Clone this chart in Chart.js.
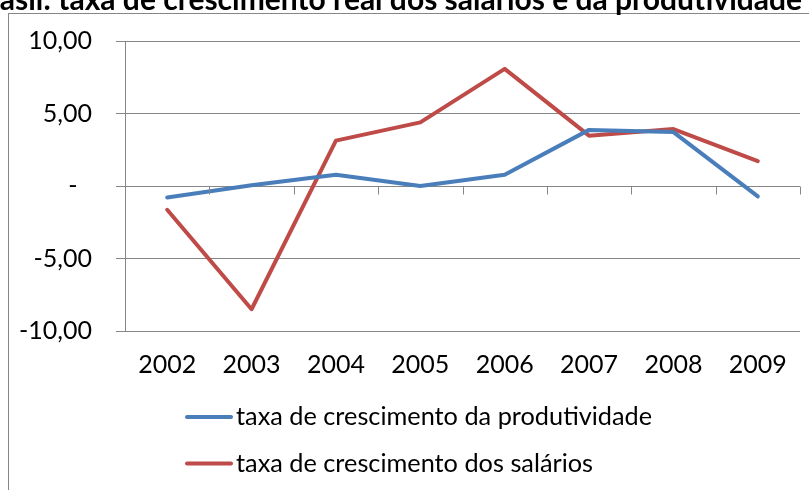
<!DOCTYPE html>
<html>
<head>
<meta charset="utf-8">
<script src="https://cdn.jsdelivr.net/npm/chart.js@4"></script>
<style>
  html, body { margin:0; padding:0; background:#ffffff; }
  #wrap { position:relative; width:809px; height:490px; }
</style>
</head>
<body>
<div id="wrap"><canvas id="growthChart"></canvas></div>
<script>

/* ===================================================== */
/* DADOS */
/* ===================================================== */

const chartTitle = "Brasil: taxa de crescimento real dos salários e da produtividade (%)";

const years = ["2002","2003","2004","2005","2006","2007","2008","2009"];

const produtividade = [-0.79, 0.05, 0.78, 0.0, 0.78, 3.87, 3.72, -0.72];
const salarios = [-1.64, -8.5, 3.13, 4.39, 8.08, 3.47, 3.93, 1.72];

const seriesNames = [
  "taxa de crescimento da produtividade",
  "taxa de crescimento dos salários"
];

const yTicks = [-10, -5, 0, 5, 10];

const FONT = "Lato";
const GRAY = "#868686";

/* ===================================================== */
/* PLUGIN: moldura, titulo, marcas e legenda */
/* ===================================================== */

const excelLook = {
  id: "excelLook",

  beforeDraw(chart){
    const ctx = chart.ctx;
    ctx.save();
    ctx.fillStyle = "#ffffff";
    ctx.fillRect(0, 0, chart.width, chart.height);
    ctx.strokeStyle = GRAY;
    ctx.lineWidth = 1;
    ctx.strokeRect(8.5, 13.5, 1000, 1000);

    // titulo cortado no topo
    ctx.font = "bold 30px " + FONT;
    ctx.fillStyle = "#000000";
    ctx.textBaseline = "alphabetic";
    ctx.textAlign = "left";
    const shift = ctx.measureText("Br").width;
    ctx.fillText(chartTitle, -shift, 10);
    ctx.restore();
  },

  afterDatasetsDraw(chart){
    const ctx = chart.ctx;
    const xs = chart.scales.x;
    const ys = chart.scales.y;
    const y0 = Math.round(ys.getPixelForValue(0)) + 0.5;
    const half = (xs.getPixelForTick(1) - xs.getPixelForTick(0)) / 2;

    ctx.save();
    ctx.strokeStyle = GRAY;
    ctx.lineWidth = 1;
    ctx.beginPath();
    for(let i = 0; i <= years.length; i++){
      const x = Math.round(xs.getPixelForTick(0) - half + i * half * 2) + 0.5;
      ctx.moveTo(x, y0);
      ctx.lineTo(x, y0 + 8);
    }
    ctx.stroke();

    // legenda
    ctx.font = "25.3px " + FONT;
    ctx.textBaseline = "alphabetic";
    ctx.textAlign = "left";
    chart.data.datasets.forEach((ds, i) => {
      const ly = 417 + i * 46.5;
      ctx.strokeStyle = ds.borderColor;
      ctx.lineWidth = 4;
      ctx.lineCap = "round";
      ctx.beginPath();
      ctx.moveTo(187, ly);
      ctx.lineTo(231, ly);
      ctx.stroke();
      ctx.fillStyle = "#000000";
      ctx.fillText(ds.label, 236, ly + 8);
    });
    ctx.restore();
  }
};

/* ===================================================== */
/* GRAFICO */
/* ===================================================== */

function makeDataset(label, data, color){
  return {
    label: label,
    data: data,
    borderColor: color,
    backgroundColor: color,
    borderWidth: 4,
    pointRadius: 0,
    tension: 0,
    borderCapStyle: "round",
    borderJoinStyle: "round"
  };
}

const growthChart = new Chart(
document.getElementById("growthChart"),
{
  type: "line",
  data: {
    labels: years,
    datasets: [
      makeDataset(seriesNames[0], produtividade, "#4A7EBB"),
      makeDataset(seriesNames[1], salarios, "#BE4B48")
    ]
  },
  options: {
    responsive: true,
    maintainAspectRatio: false,
    animation: false,
    events: [],
    layout: {
      padding: { top: 41, right: 9, left: 0, bottom: 0 }
    },
    plugins: {
      legend: { display: false },
      title: { display: false },
      tooltip: { enabled: false }
    },
    scales: {
      x: {
        offset: true,
        grid: { display: false },
        border: { display: false },
        ticks: {
          color: "#000000",
          font: { family: FONT, size: 25 },
          padding: 11,
          maxRotation: 0
        },
        afterFit(scale){
          scale.height = 159;
        }
      },
      y: {
        min: -10,
        max: 10,
        afterBuildTicks(scale){
          scale.ticks = yTicks.map(v => ({ value: v }));
        },
        grid: {
          color: GRAY,
          lineWidth: 1,
          tickLength: 9,
          drawTicks: true
        },
        border: { display: true, color: GRAY, width: 1 },
        ticks: {
          color: "#000000",
          font: { family: FONT, size: 25 },
          padding: 24,
          callback(value){
            if(value === 0) return "-\u2007";
            return value.toFixed(2).replace(".", ",");
          }
        },
        afterFit(scale){
          scale.width = 125;
        }
      }
    }
  },
  plugins: [excelLook]
});

</script>
</body>
</html>
